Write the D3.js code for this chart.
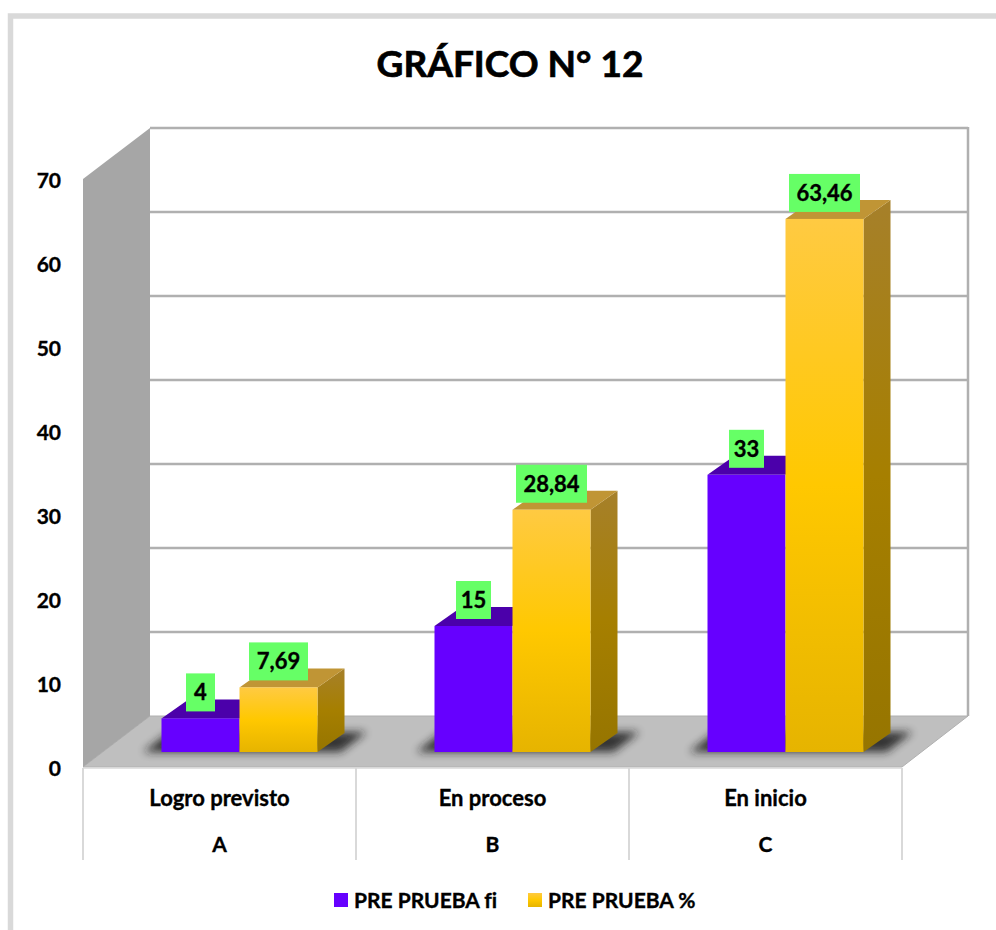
<!DOCTYPE html>
<html><head><meta charset="utf-8">
<script src="https://cdn.jsdelivr.net/npm/d3@7"></script>
<style>html,body{margin:0;padding:0;background:#fff}svg{display:block}text{font-family:Lato,"Open Sans",sans-serif;font-weight:700;fill:#000;stroke:#000;stroke-width:.35px;font-variant-ligatures:none}</style>
</head><body><svg id="c" width="996" height="930"></svg>
<script>
const title = "GRÁFICO N° 12";
const categories = ["Logro previsto","En proceso","En inicio"];
const groups = ["A","B","C"];
const seriesNames = ["PRE PRUEBA fi","PRE PRUEBA %"];
const fiValues = [4,15,33];
const pctValues = [7.69,28.84,63.46];
const fiLabels = ["4","15","33"];
const pctLabels = ["7,69","28,84","63,46"];
const yTicks = [0,10,20,30,40,50,60,70];

const svg = d3.select("#c");
const defs = svg.append("defs");
function grad(id,stops){const g=defs.append("linearGradient").attr("id",id).attr("x1",0).attr("y1",0).attr("x2",0).attr("y2",1);
  stops.forEach(s=>g.append("stop").attr("offset",s[0]).attr("stop-color",s[1]));}
grad("front",[[0,"#FFCA42"],[0.5,"#FFC800"],[1,"#E6B400"]]);
grad("side",[[0,"#A6802A"],[0.5,"#A67F00"],[1,"#967500"]]);
defs.append("filter").attr("id","blur").attr("x","-30%").attr("y","-100%").attr("width","160%").attr("height","300%")
  .append("feGaussianBlur").attr("stdDeviation",4.5);

// frame
svg.append("path").attr("d","M10.5,930V16H996").attr("fill","none").attr("stroke","#d9d9d9").attr("stroke-width",5.5);

const x0=83,x1=902,yB=767,yT=179,dx=67,dy=-51;
const y=d3.scaleLinear().domain([0,70]).range([yB,yT]);
const x=d3.scaleBand().domain(categories).range([x0,x1]);

// floor, walls
svg.append("path").attr("d",`M${x0},${y(0)}L${x0+dx},${y(0)+dy}H${x1+dx-1}L${x1},${y(0)}Z`).attr("fill","#bfbfbf").attr("stroke","#b0b0b0").attr("stroke-width",1);
svg.append("path").attr("d",`M${x0},${y(0)}V${y(70)}L${x0+dx},${y(70)+dy}V${y(0)+dy}Z`).attr("fill","#a6a6a6");

// gridlines on back wall
svg.append("g").selectAll("line").data(yTicks.slice(1)).join("line")
  .attr("x1",x0+dx).attr("x2",x1+dx-1).attr("y1",d=>y(d)+dy).attr("y2",d=>y(d)+dy)
  .attr("stroke","#b0b0b0").attr("stroke-width",2.5);
svg.append("line").attr("x1",x1+dx-1).attr("x2",x1+dx-1).attr("y1",y(70)+dy-1).attr("y2",y(0)+dy)
  .attr("stroke","#b0b0b0").attr("stroke-width",2.5);

// y tick labels
svg.append("g").selectAll("text").data(yTicks).join("text")
  .attr("x",61).attr("y",d=>y(d)+9).attr("text-anchor","end").attr("font-size",21).text(d=>d);

// category axis
const axisG=svg.append("g");
axisG.selectAll("line").data(d3.range(categories.length+1)).join("line")
  .attr("x1",i=>x0+i*x.step()).attr("x2",i=>x0+i*x.step()).attr("y1",y(0)+1).attr("y2",860)
  .attr("stroke","#d9d9d9").attr("stroke-width",2);
axisG.append("line").attr("x1",x0).attr("x2",x1).attr("y1",y(0)+1).attr("y2",y(0)+1).attr("stroke","#d9d9d9").attr("stroke-width",1.5);
axisG.selectAll("text.cat").data(categories).join("text").attr("class","cat")
  .attr("x",d=>x(d)+x.bandwidth()/2).attr("y",806).attr("text-anchor","middle").attr("font-size",22).text(d=>d);
axisG.selectAll("text.grp").data(groups).join("text").attr("class","grp")
  .attr("x",(d,i)=>x(categories[i])+x.bandwidth()/2).attr("y",852).attr("text-anchor","middle").attr("font-size",21).text(d=>d);

// bars
const barW=78,sx=27,sy=-19,shiftX=20,shiftY=-15;
const rows=categories.map((c,i)=>({c,i,fi:fiValues[i],pct:pctValues[i]}));
const cx=d=>x(d.c)+x.bandwidth()/2+shiftX;
const h=v=>y(0)-y(v);
const base=y(0)+shiftY;
const bars=svg.append("g").selectAll("g").data(rows).join("g");
// shadow
bars.append("path").attr("d",d=>{const l=cx(d)-barW-18,r=cx(d)+barW;
  return `M${l},${base}L${l+26},${base-20}H${r+sx+22}L${r+sx-4},${base}Z`;})
  .attr("fill","#1c1c1c").attr("opacity",.85).attr("filter","url(#blur)");
// purple
bars.append("path").attr("d",d=>{const l=cx(d)-barW,t=base-h(d.fi);return `M${l},${t}L${l+sx},${t+sy}H${l+barW+sx}L${l+barW},${t}Z`;}).attr("fill","#4B00AA");
bars.append("rect").attr("x",d=>cx(d)-barW).attr("y",d=>base-h(d.fi)).attr("width",barW).attr("height",d=>h(d.fi)).attr("fill","#6600FF");
// orange side, top, front
bars.append("path").attr("d",d=>{const l=cx(d),t=base-h(d.pct);return `M${l+barW},${t}L${l+barW+sx},${t+sy}V${base+sy}L${l+barW},${base}Z`;}).attr("fill","url(#side)");
bars.append("path").attr("d",d=>{const l=cx(d),t=base-h(d.pct);return `M${l},${t}L${l+sx},${t+sy}H${l+barW+sx}L${l+barW},${t}Z`;}).attr("fill","#C09535");
bars.append("rect").attr("x",d=>cx(d)).attr("y",d=>base-h(d.pct)).attr("width",barW).attr("height",d=>h(d.pct)).attr("fill","url(#front)");

// data labels
function label(sel,valFn,txtFn,xoff,w){
  const g=sel.append("g");
  g.append("rect").attr("x",d=>cx(d)+xoff-w(d)/2).attr("y",d=>base-h(valFn(d))-45).attr("width",w).attr("height",38).attr("fill","#66FF66");
  g.append("text").attr("x",d=>cx(d)+xoff).attr("y",d=>base-h(valFn(d))-18).attr("text-anchor","middle").attr("font-size",22).text(txtFn);
}
label(bars,d=>d.fi,d=>fiLabels[d.i],-39,d=>fiLabels[d.i].length>1?35:29);
label(bars,d=>d.pct,d=>pctLabels[d.i],39,d=>pctLabels[d.i].length>4?71:59);

// title
svg.append("text").attr("x",510).attr("y",77).attr("text-anchor","middle").attr("font-size",37).style("stroke-width","0.7px").text(title);

// legend
const lg=svg.append("g");
const lx=[334,528],colors=["#6600FF","url(#front)"],tx=[354,548];
seriesNames.forEach((n,i)=>{
  lg.append("rect").attr("x",lx[i]).attr("y",893).attr("width",14).attr("height",14).attr("fill",colors[i]);
  lg.append("text").attr("x",tx[i]).attr("y",908).attr("font-size",21).text(n);
});
</script></body></html>
